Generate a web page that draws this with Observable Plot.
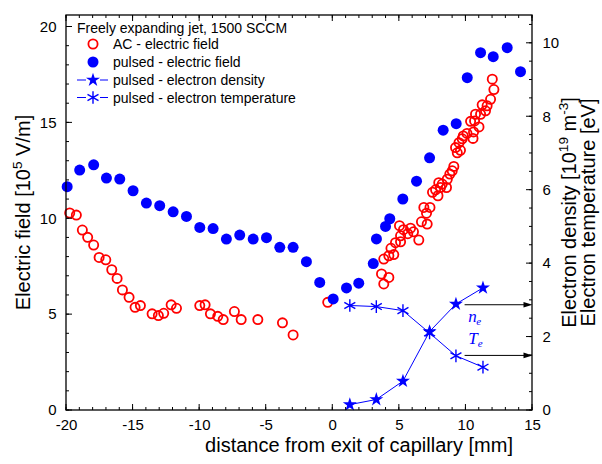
<!DOCTYPE html>
<html>
<head>
<meta charset="utf-8">
<script src="https://cdn.jsdelivr.net/npm/d3@7"></script>
<script src="https://cdn.jsdelivr.net/npm/@observablehq/plot@0.6"></script>
<style>
  body { margin: 0; background: #fff; }
  #chart { width: 602px; height: 464px; }
</style>
</head>
<body>
<div id="chart"></div>
<script>
// ---------- data ----------
const acX = [-19.76,-19.26,-18.81,-18.41,-17.96,-17.55,-17.05,-16.60,-16.20,-15.80,-15.30,-14.85,-14.45,-13.57,-13.10,-12.70,-12.14,-11.74,-9.99,-9.59,-9.19,-8.64,-8.23,-7.39,-6.88,-5.63,-3.78,-2.98,-0.38,
  3.66,3.83,4.21,3.83,4.21,4.58,4.37,4.71,5.09,5.09,5.01,5.31,5.84,6.06,5.63,6.46,6.66,7.09,6.84,7.30,7.04,7.49,7.90,7.72,7.96,8.22,8.09,8.54,8.60,8.79,8.97,9.09,9.35,9.59,9.22,9.48,9.72,9.80,10.08,10.53,10.57,10.98,10.35,10.65,10.72,11.10,11.47,11.22,11.59,11.85,12.10,11.98];
const acE = [10.30,10.19,9.41,9.03,8.63,7.98,7.86,7.34,6.89,6.29,5.90,5.38,5.47,5.04,4.95,5.07,5.51,5.33,5.47,5.51,5.04,4.91,4.74,5.16,4.74,4.74,4.57,3.94,5.64,
  7.12,6.60,6.94,7.90,8.07,8.13,8.46,8.75,8.80,9.11,9.64,9.43,9.51,9.32,9.22,8.89,9.84,9.72,10.59,10.59,10.29,11.38,11.20,11.51,11.88,11.81,11.63,11.63,12.06,12.33,12.50,12.73,13.44,13.57,13.71,13.97,14.17,14.32,14.45,14.19,14.53,14.79,15.08,15.10,15.45,15.45,15.63,15.94,15.89,16.23,16.74,17.28];

const pulsedX = [-19.95,-19.01,-17.96,-17.00,-16.00,-15.00,-14.00,-13.00,-11.99,-10.99,-9.99,-8.99,-7.99,-6.99,-5.98,-4.98,-3.98,-2.98,-1.98,-0.98,0.03,1.03,1.95,3.04,3.28,3.96,4.28,5.26,6.29,7.27,8.29,9.27,10.10,11.10,12.05,13.10,14.10];
const pulsedE = [11.67,12.54,12.81,12.12,12.07,11.46,10.82,10.68,10.36,10.12,9.55,9.49,8.94,9.15,8.94,9.01,8.51,8.51,7.76,6.68,5.82,6.39,6.64,7.66,8.95,9.60,10.00,11.03,11.96,13.18,14.62,14.96,17.36,18.66,18.45,18.92,17.67];

const probeX = [1.28,3.27,5.27,7.27,9.25,11.28];
const densityNe = [0.16,0.30,0.80,2.15,2.90,3.34];     // 10^19 m^-3
const temperatureTe = [2.86,2.83,2.72,2.11,1.49,1.18]; // eV

const xMajor = [-20,-15,-10,-5,0,5,10,15];
const yMajor = [0,5,10,15,20];
const rMajor = [0,2,4,6,8,10];
const xMinor = d3.range(-20, 15.01, 1);
const yMinor = d3.range(0, 20.01, 1);
const rMinor = d3.range(0, 10.51, 0.5);

const legendTitle = "Freely expanding jet, 1500 SCCM";
const legendLabels = ["AC - electric field","pulsed - electric field","pulsed - electron density","pulsed - electron temperature"];

const arrowStartX = [9.9, 9.9];
const arrowY = [2.88, 1.50];      // right-axis units
const labelX = [10.18, 10.18];
const labelY = [2.56, 1.95];      // right-axis units
const labelMain = ["n", "T"];
const labelSub = ["e", "e"];

// ---------- layout ----------
const CW = 602, CH = 464;
const MT = 15, MR = 70, MB = 54, ML = 66;
const Y_MAX = 20.6;
const K = 1.915;               // right-axis unit -> left-axis unit
const MAJ = 6, MIN = 3;
const RED = "#ff0000", BLUE = "#0000ff";
const FONT = "'Liberation Sans', Arial, Helvetica, sans-serif";
const SERIF = "'Liberation Serif', 'Times New Roman', serif";

const ac = acX.map((x, i) => ({x, y: acE[i]}));
const pulsed = pulsedX.map((x, i) => ({x, y: pulsedE[i]}));
const probe = probeX.map((x, i) => ({x, ne: densityNe[i] * K, te: temperatureTe[i] * K}));
const arrows = arrowY.map((y, i) => ({x1: arrowStartX[i], x2: 15, y: y * K}));
const labels = labelMain.map((t, i) => ({t, s: labelSub[i], x: labelX[i], y: labelY[i] * K}));

const arrowHead = {draw(ctx) { ctx.moveTo(0, 0); ctx.lineTo(-9, -2.8); ctx.lineTo(-9, 2.8); ctx.closePath(); }};

const plot = Plot.plot({
  width: CW, height: CH,
  marginTop: MT, marginRight: MR, marginBottom: MB, marginLeft: ML,
  style: {fontFamily: FONT, fontSize: "15px", background: "white"},
  x: {domain: [-20, 15]},
  y: {domain: [0, Y_MAX]},
  marks: [
    Plot.axisX(xMajor, {tickSize: 0, tickPadding: 9, tickFormat: d => String(d), label: null, fontSize: 15}),
    Plot.axisY(yMajor, {tickSize: 0, tickPadding: 10, tickFormat: d => String(d), label: null, fontSize: 15}),
    Plot.axisY(rMajor.map(v => v * K), {anchor: "right", tickSize: 0, tickPadding: 10, tickFormat: d => String(Math.round(d / K)), label: null, fontSize: 15}),
    Plot.dot(ac, {x: "x", y: "y", r: 4.6, stroke: RED, strokeWidth: 1.8, fill: "none"}),
    Plot.dot(pulsed, {x: "x", y: "y", r: 5.5, fill: BLUE, stroke: "none"}),
    Plot.line(probe, {x: "x", y: "ne", stroke: BLUE, strokeWidth: 1}),
    Plot.line(probe, {x: "x", y: "te", stroke: BLUE, strokeWidth: 1}),
    Plot.dot(probe, {x: "x", y: "ne", symbol: "star", r: 4.4, fill: BLUE, stroke: "none"}),
    Plot.dot(probe, {x: "x", y: "te", symbol: "asterisk", r: 6, stroke: BLUE, strokeWidth: 1.4, fill: "none"}),
    Plot.link(arrows, {x1: "x1", x2: d => d.x2 - 0.6, y1: "y", y2: "y", stroke: "black", strokeWidth: 1}),
    Plot.dot(arrows, {x: "x2", y: "y", symbol: arrowHead, fill: "black", stroke: "none"}),
    Plot.text(labels, {x: "x", y: "y", text: "t", textAnchor: "start", fontFamily: SERIF, fontStyle: "italic", fontSize: 17, fill: BLUE}),
    Plot.text(labels.slice(0, 1), {x: "x", y: "y", text: "s", dx: 8, dy: 5, textAnchor: "start", fontFamily: SERIF, fontStyle: "italic", fontSize: 11, fill: BLUE}),
    Plot.text(labels.slice(1), {x: "x", y: "y", text: "s", dx: 9.5, dy: 5, textAnchor: "start", fontFamily: SERIF, fontStyle: "italic", fontSize: 11, fill: BLUE})
  ]
});

document.getElementById("chart").appendChild(plot);

// ---------- frame & inward ticks, positioned with Plot's own scales ----------
const sx = plot.scale("x"), sy = plot.scale("y");
const [x0, x1] = sx.range, [yb, yt] = sy.range;
const svg = d3.select(plot);
const fr = svg.append("g").attr("stroke", "black").attr("fill", "none");
const seg = (a, b, c, d) => fr.append("line").attr("x1", a).attr("y1", b).attr("x2", c).attr("y2", d).attr("stroke-width", 1);
xMinor.forEach(v => { const p = sx.apply(v); seg(p, yb, p, yb - MIN); seg(p, yt, p, yt + MIN); });
xMajor.forEach(v => { const p = sx.apply(v); seg(p, yb, p, yb - MAJ); seg(p, yt, p, yt + MAJ); });
yMinor.forEach(v => { const p = sy.apply(v); seg(x0, p, x0 + MIN, p); });
yMajor.forEach(v => { const p = sy.apply(v); seg(x0, p, x0 + MAJ, p); });
rMinor.forEach(v => { const p = sy.apply(v * K); seg(x1, p, x1 - MIN, p); });
rMajor.forEach(v => { const p = sy.apply(v * K); seg(x1, p, x1 - MAJ, p); });
fr.append("rect").attr("x", x0).attr("y", yt).attr("width", x1 - x0).attr("height", yb - yt).attr("stroke-width", 1.3);

// ---------- titles & legend (layout) ----------
const g = svg.append("g").attr("font-family", FONT).attr("fill", "black").attr("text-anchor", "start");

// parts: [{t}, {sup}] — text following a superscript is shifted back down
function supText(sel, parts, size) {
  const shift = size * 0.42;
  let raised = false;
  parts.forEach(p => {
    if (p.sup) {
      sel.append("tspan").attr("font-size", size * 0.68).attr("dy", raised ? 0 : -shift).text(p.sup);
      raised = true;
    } else {
      const ts = sel.append("tspan").text(p.t);
      if (raised) { ts.attr("dy", shift); raised = false; }
    }
  });
}

const TS = 20;
const midY = (yb + yt) / 2;
const leftTitle = g.append("text").attr("transform", `translate(30,${midY}) rotate(-90)`)
  .attr("text-anchor", "middle").attr("font-size", TS);
supText(leftTitle, [{t: "Electric field [10"}, {sup: "5"}, {t: " V/m]"}], TS);

const r1 = g.append("text").attr("transform", `translate(576,${midY}) rotate(-90)`)
  .attr("text-anchor", "middle").attr("font-size", TS);
supText(r1, [{t: "Electron density [10"}, {sup: "19"}, {t: " m"}, {sup: "-3"}, {t: "]"}], TS);

g.append("text").attr("transform", `translate(595,${midY}) rotate(-90)`)
  .attr("text-anchor", "middle").attr("font-size", TS).text("Electron temperature [eV]");

g.append("text").attr("x", 359).attr("y", 452).attr("text-anchor", "middle").attr("font-size", TS)
  .text("distance from exit of capillary [mm]");

// legend
const lg = g.append("g").attr("font-size", 14).attr("text-anchor", "start");
lg.append("text").attr("x", 77).attr("y", 33).text(legendTitle);
const rows = [44, 62, 80, 97.5];
rows.forEach((y, i) => lg.append("text").attr("x", 113).attr("y", y + 5).text(legendLabels[i]));
lg.append("circle").attr("cx", 93).attr("cy", rows[0]).attr("r", 4.6).attr("fill", "none").attr("stroke", RED).attr("stroke-width", 1.8);
lg.append("circle").attr("cx", 93).attr("cy", rows[1]).attr("r", 5.5).attr("fill", BLUE);
[rows[2], rows[3]].forEach(y => {
  lg.append("line").attr("x1", 77).attr("x2", 86).attr("y1", y).attr("y2", y).attr("stroke", BLUE).attr("stroke-width", 1);
  lg.append("line").attr("x1", 100).attr("x2", 108).attr("y1", y).attr("y2", y).attr("stroke", BLUE).attr("stroke-width", 1);
});
lg.append("path").attr("transform", `translate(93,${rows[2]})`).attr("d", d3.symbol(d3.symbolStar, Math.PI * 4.4 * 4.4)()).attr("fill", BLUE);
lg.append("path").attr("transform", `translate(93,${rows[3]})`).attr("d", d3.symbol(d3.symbolAsterisk, Math.PI * 6 * 6)()).attr("fill", "none").attr("stroke", BLUE).attr("stroke-width", 1.4);
</script>
</body>
</html>
